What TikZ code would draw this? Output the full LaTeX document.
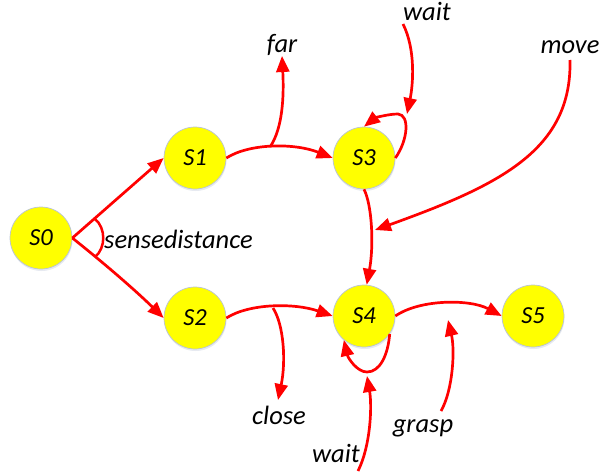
\documentclass[tikz,border=0pt]{standalone}
\usepackage{fontspec}
\setmainfont{Carlito}
\usetikzlibrary{arrows.meta,shadows}
\definecolor{arrred}{RGB}{255,0,0}
\definecolor{stfill}{RGB}{255,255,0}
\definecolor{stline}{RGB}{185,195,215}
\tikzset{
  state/.style={circle, minimum size=62pt, inner sep=0pt, fill=stfill, draw=stline, line width=0.7pt,
    drop shadow={shadow xshift=0.5pt, shadow yshift=-2pt, fill=stline, opacity=0.35},
    font=\fontsize{24.5}{28}\selectfont\itshape},
  lbl/.style={inner sep=0pt, font=\fontsize{26.5}{31}\selectfont\itshape},
  arr/.style={draw=arrred, line width=2.7pt, -{Triangle[length=16pt,width=13pt]}},
  ln/.style={draw=arrred, line width=2.5pt},
}
\begin{document}
\begin{tikzpicture}[x=1pt,y=-1pt]
\useasboundingbox (0,0) rectangle (600,474);
% states
\node[state] (S0) at (41,238) {S0};
\node[state] (S1) at (195,158) {S1};
\node[state] (S2) at (195,318) {S2};
\node[state] (S3) at (364,158) {S3};
\node[state] (S4) at (364,316) {S4};
\node[state] (S5) at (533,316) {S5};
% labels
\node[lbl, anchor=base west] (sd) at (104,248) {sensedistance};
\node[lbl, anchor=base] (far) at (282,52) {far};
\node[lbl, anchor=base] (waitT) at (427,20) {wait};
\node[lbl, anchor=base] (move) at (570,53) {move};
\node[lbl, anchor=base] (close) at (279,424) {close};
\node[lbl, anchor=base] (waitB) at (336,462) {wait};
\node[lbl, anchor=base] (grasp) at (423,432) {grasp};
% free ends and junctions
\coordinate (farB) at (270,147);
\coordinate (farT) at (282,56);
\coordinate (closeB) at (273,308);
\coordinate (closeT) at (278,400);
\coordinate (waitTs) at (403,24);
\coordinate (L3) at (407,114);
\coordinate (moveS) at (570,60);
\coordinate (M4) at (375,230);
\coordinate (waitBs) at (358,471);
\coordinate (L4) at (367,376);
\coordinate (graspS) at (441,411);
\coordinate (graspT) at (448,320);
\coordinate (aU) at (95,219);
\coordinate (aL) at (95,257);
% edges
\draw[arr] (S0.east) -- (S1.west);
\draw[arr] (S0.east) .. controls (105,264) and (135,290) .. (S2.west);
\draw[ln] (aU) .. controls (106,228) and (106,248) .. (aL);
\draw[arr] (S1.east) .. controls (250,143) and (295,143) .. (S3.west);
\draw[arr] (farB) .. controls (283,128) and (284,95) .. (farT);
\draw[arr] (S3.east) .. controls (408,140) and (410,115) .. (398,114) .. controls (388,114) and (375,118) .. (S3.north);
\draw[arr] (waitTs) .. controls (416,50) and (413,85) .. (L3);
\draw[arr] (S3.south) .. controls (372,205) and (374,245) .. (S4.85);
\draw[arr] (moveS) .. controls (572,150) and (500,185) .. (M4);
\draw[arr] (S2.east) .. controls (250,303) and (295,303) .. (S4.west);
\draw[arr] (closeB) .. controls (284,325) and (286,362) .. (closeT);
\draw[arr] (S4.-35) .. controls (388,355) and (380,372) .. (367,372) .. controls (357,372) and (348,358) .. (S4.-130);
\draw[arr] (waitBs) .. controls (371,445) and (372,405) .. (L4);
\draw[arr] (S4.east) .. controls (420,299) and (470,299) .. (S5.west);
\draw[arr] (graspS) .. controls (453,390) and (455,350) .. (graspT);
\end{tikzpicture}
\end{document}
